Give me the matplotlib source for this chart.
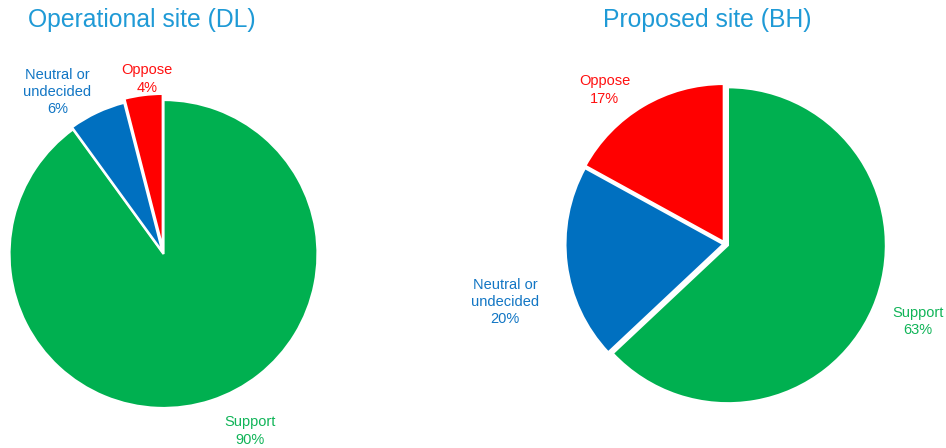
import numpy as np
import matplotlib.pyplot as plt

plt.rcParams['font.family'] = ['Liberation Sans', 'DejaVu Sans']

categories = ["Support", "Neutral or\nundecided", "Oppose"]
dl_values = [90, 6, 4]
bh_values = [63, 20, 17]
colors = ["#00B050", "#0070C0", "#FF0000"]
text_colors = ["#10B458", "#1276C4", "#FF1010"]
title_color = "#1F9AD6"

W, H = 946, 448
fig = plt.figure(figsize=(W / 100, H / 100), dpi=100)


def pie_axes(cx, cy, r):
    # square axes in pixel terms, pie radius 1 fills it
    return fig.add_axes([(cx - r) / W, (H - cy - r) / H, 2 * r / W, 2 * r / H])


def draw_pie(ax, values, explode, label_pos, title, title_xy):
    wedges, _ = ax.pie(values, colors=colors, startangle=90, counterclock=False,
                       explode=explode, radius=1.0,
                       wedgeprops=dict(edgecolor="white", linewidth=1.6))
    for w in wedges:
        w.set_clip_on(False)
    for name, v, (x, y), c in zip(categories, values, label_pos, text_colors):
        ax.text(x, y, f"{name}\n{v}%", ha="center", va="center", color=c,
                fontsize=10.5, linespacing=1.3)
    ax.set_xlim(-1, 1)
    ax.set_ylim(-1, 1)
    ax.set_aspect("equal")
    ax.axis("off")
    fig.text(title_xy[0] / W, 1 - title_xy[1] / H, title, ha="center", va="center",
             color=title_color, fontsize=17.8)


ax1 = pie_axes(163.5, 254, 154)
draw_pie(ax1, dl_values, [0, 0.015, 0.04],
         [(0.562, -1.149), (-0.688, 1.052), (-0.107, 1.136)],
         "Operational site (DL)", (142, 20))

ax2 = pie_axes(725, 244, 158)
draw_pie(ax2, bh_values, [0.02, 0.01, 0.015],
         [(1.22, -0.49), (-1.392, -0.367), (-0.76, 0.975)],
         "Proposed site (BH)", (707, 20))

fig.savefig("out.png", dpi=100)
